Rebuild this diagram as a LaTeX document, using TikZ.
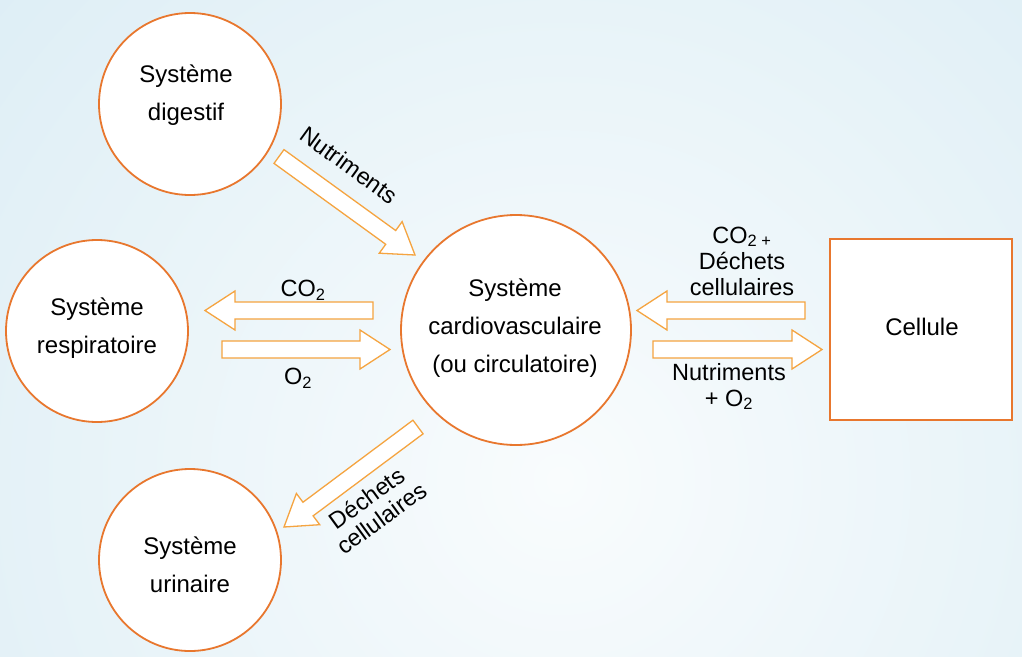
\documentclass[tikz,border=0pt]{standalone}
\usepackage{fontspec}
\setmainfont{Liberation Sans}
\usetikzlibrary{calc}
\definecolor{bgblue}{HTML}{C6E2EF}
\definecolor{bgwhite}{HTML}{F9FCFD}
\definecolor{ringor}{HTML}{E8772E}
\definecolor{arror}{HTML}{F5A440}
\tikzset{
  organ/.style={circle, draw=ringor, line width=1.8pt, fill=white, minimum size=182pt, inner sep=0pt},
  bigorgan/.style={organ, minimum size=230pt},
  cellbox/.style={rectangle, draw=ringor, line width=1.8pt, fill=white, minimum width=182pt, minimum height=181pt, inner sep=0pt},
  lbl/.style={font=\fontsize{24}{38}\selectfont, align=center, inner sep=0pt},
  alabel/.style={font=\fontsize{23.5}{26}\selectfont, align=center, inner sep=0pt},
  rlabel/.style={font=\fontsize{23.5}{25}\selectfont, align=center, inner sep=0pt},
  blockarr/.style={draw=arror, line width=1.3pt, fill=white, line join=miter},
}
\newcommand\blockarrow[2]{%
  \coordinate (hb) at ($(#2)!30pt!(#1)$);
  \draw[blockarr] ($(#1)!8.5pt!90:(#2)$) -- ($(hb)!8.5pt!90:(#2)$) -- ($(hb)!19.5pt!90:(#2)$)
    -- (#2) -- ($(hb)!19.5pt!-90:(#2)$) -- ($(hb)!8.5pt!-90:(#2)$) -- ($(#1)!8.5pt!-90:(#2)$) -- cycle;}
\begin{document}
\begin{tikzpicture}[x=1pt,y=-1pt]
\useasboundingbox (0,0) rectangle (1022,656);
\begin{scope}
  \clip (0,0) rectangle (1022,656);
  \shade[inner color=bgwhite, outer color=bgblue] (560,480) circle (1400);
\end{scope}

% organs
\node[organ] (dig) at (190,104) {};
\node[lbl] (digt) at (186,95) {Système\\digestif};
\node[organ] (resp) at (97,331) {};
\node[lbl] (respt) at (97,328) {Système\\respiratoire};
\node[organ] (uri) at (190,560) {};
\node[lbl] (urit) at (190,565) {Système\\urinaire};
\node[bigorgan] (card) at (516,330) {};
\node[lbl] (cardt) at (515,328.5) {Système\\cardiovasculaire\\(ou circulatoire)};
\node[cellbox] (cell) at (921,329.5) {};
\node[lbl] (cellt) at (922,327) {Cellule};

% arrows
\coordinate (nA) at (279,156.5);  \coordinate (nB) at (415,255);
\coordinate (cA) at (373,310.5);  \coordinate (cB) at (205,310.5);
\coordinate (oA) at (222,349.5);  \coordinate (oB) at (390,349.5);
\coordinate (dA) at (805,310.5);  \coordinate (dB) at (637,310.5);
\coordinate (pA) at (653,349.5);  \coordinate (pB) at (822,349.5);
\coordinate (uA) at (418,427);    \coordinate (uB) at (284,527);
\blockarrow{nA}{nB}
\blockarrow{cA}{cB}
\blockarrow{oA}{oB}
\blockarrow{dA}{dB}
\blockarrow{pA}{pB}
\blockarrow{uA}{uB}

% labels
\node[alabel, rotate=-36] (nutl) at (349,165) {Nutriments};
\node[alabel] (co2l) at (303,290) {CO\textsubscript{2}};
\node[alabel] (o2l) at (298,378) {O\textsubscript{2}};
\node[alabel] (dechl) at (742,261) {CO\textsubscript{2 +}\\Déchets\\cellulaires};
\node[alabel] (nuto2l) at (729,386.5) {Nutriments\\+ O\textsubscript{2}};
\node[rlabel, rotate=36] (uril) at (374,508) {Déchets\\cellulaires};
\end{tikzpicture}
\end{document}
